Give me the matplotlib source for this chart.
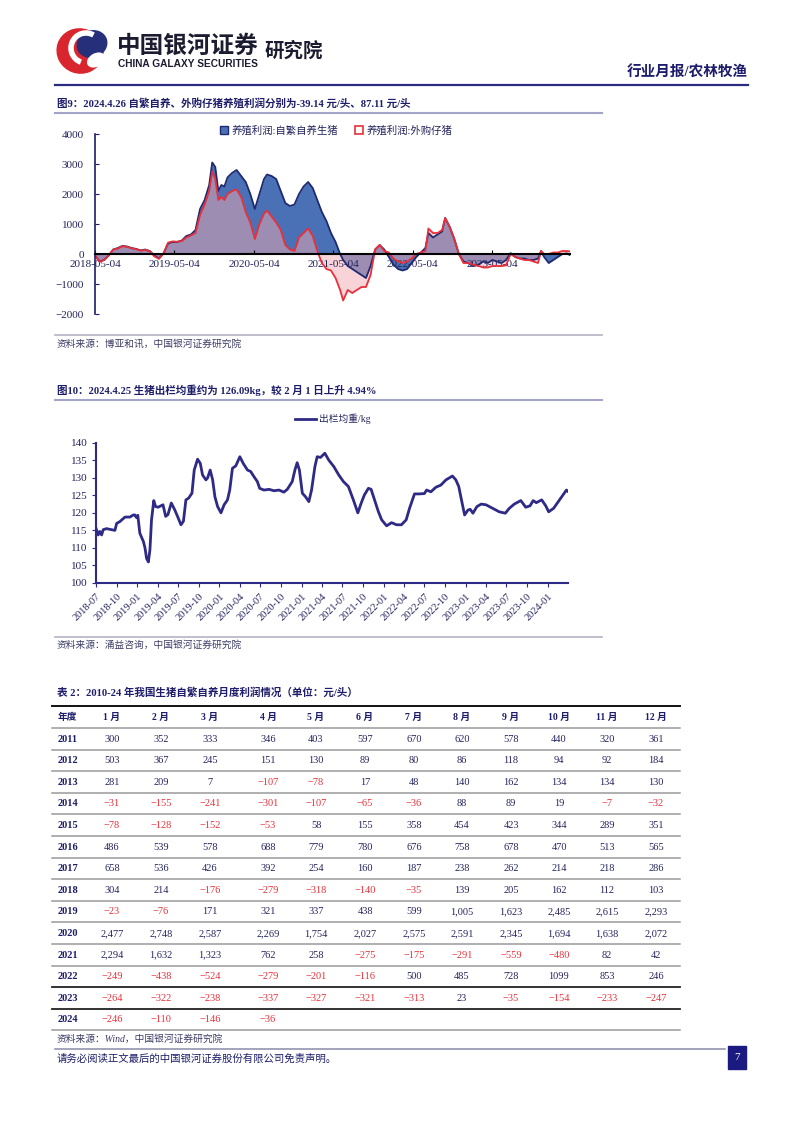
import matplotlib
matplotlib.use('Agg')
import matplotlib.pyplot as plt
from matplotlib.patches import Ellipse, Rectangle, Patch, Arc
from matplotlib.lines import Line2D
import pandas as pd

plt.rcParams['font.family'] = ['Liberation Serif', 'Noto Sans CJK SC']
plt.rcParams['axes.unicode_minus'] = True

# ---- chart 9: breeding profit, yuan/head (weekly) ----
profit_dates = [
    '2018-05-04', '2018-05-25', '2018-06-15', '2018-07-06', '2018-07-27', '2018-08-17',
    '2018-09-07', '2018-09-28', '2018-10-19', '2018-11-09', '2018-11-30', '2018-12-21',
    '2019-01-11', '2019-02-01', '2019-02-22', '2019-03-15', '2019-04-05', '2019-04-26',
    '2019-05-17', '2019-06-07', '2019-06-28', '2019-07-19', '2019-08-09', '2019-08-30',
    '2019-09-20', '2019-10-11', '2019-10-25', '2019-11-08', '2019-11-22', '2019-12-06',
    '2019-12-20', '2020-01-03', '2020-01-24', '2020-02-14', '2020-03-06', '2020-03-27',
    '2020-04-17', '2020-05-08', '2020-05-29', '2020-06-19', '2020-07-03', '2020-07-24',
    '2020-08-14', '2020-09-04', '2020-09-25', '2020-10-16', '2020-11-06', '2020-11-27',
    '2020-12-18', '2021-01-08', '2021-01-29', '2021-02-19', '2021-03-12', '2021-04-02',
    '2021-04-23', '2021-05-14', '2021-06-04', '2021-06-18', '2021-07-09', '2021-07-30',
    '2021-08-20', '2021-09-10', '2021-10-01', '2021-10-22', '2021-11-12', '2021-12-03',
    '2021-12-24', '2022-01-14', '2022-02-04', '2022-02-25', '2022-03-18', '2022-04-08',
    '2022-04-29', '2022-05-20', '2022-06-10', '2022-07-01', '2022-07-15', '2022-08-05',
    '2022-08-26', '2022-09-16', '2022-09-30', '2022-10-21', '2022-11-11', '2022-12-02',
    '2022-12-23', '2023-01-13', '2023-02-03', '2023-03-03', '2023-03-24', '2023-04-14',
    '2023-05-05', '2023-05-26', '2023-06-16', '2023-07-07', '2023-07-28', '2023-08-18',
    '2023-09-08', '2023-09-29', '2023-10-20', '2023-11-10', '2023-12-01', '2023-12-15',
    '2023-12-29', '2024-01-19', '2024-02-09', '2024-03-01', '2024-03-22', '2024-04-12',
    '2024-04-26']
self_bred = [
    -50, -250, -200, -50, 150, 200, 270, 250, 200, 170, 120, 150,
    100, -50, -150, 20, 350, 400, 400, 450, 600, 650, 800, 1500,
    1800, 2300, 3050, 2900, 2100, 2300, 2250, 2550, 2700, 2800, 2600, 2400,
    2000, 1500, 2000, 2500, 2650, 2600, 2500, 2100, 1700, 1600, 1650, 2000,
    2250, 2400, 2200, 1800, 1400, 1100, 700, 400, 0, -200, -400, -500,
    -600, -700, -800, -400, 150, 300, 150, -100, -350, -500, -550, -500,
    -300, -100, 50, 200, 700, 550, 650, 750, 1200, 900, 500, 0,
    -250, -300, -400, -350, -250, -300, -200, -250, -300, -200, 30, -100,
    -150, -150, -200, -200, -150, 100, -100, -300, -200, -100, 0, 20,
    -39.14]
piglet_bought = [
    -50, -260, -200, -50, 150, 180, 260, 240, 190, 160, 110, 140,
    90, -80, -160, 20, 380, 420, 410, 430, 550, 620, 700, 1300,
    1650, 2100, 2750, 2500, 1800, 1900, 1800, 2000, 2100, 2150, 1900, 1400,
    1050, 500, 1000, 1350, 1450, 1250, 1050, 800, 300, 150, 100, 550,
    700, 850, 600, 100, -300, -500, -550, -800, -1200, -1550, -1200, -1300,
    -1200, -1100, -1100, -700, 150, 300, 100, 50, -150, -250, -300, -250,
    -150, 0, 50, 100, 850, 700, 700, 800, 1200, 900, 500, 0,
    -300, -300, -350, -400, -450, -450, -400, -400, -400, -380, 0, -100,
    -150, -200, -200, -250, -300, 100, 0, 0, 50, 50, 100, 100,
    87.11]
profit_ticks = ['2018-05-04', '2019-05-04', '2020-05-04', '2021-05-04', '2022-05-04', '2023-05-04']
profit_labels = ['养殖利润:自繁自养生猪', '养殖利润:外购仔猪']

# ---- chart 10: average slaughter weight, kg ----
weight_dates = [
    '2018-07-01', '2018-07-11', '2018-07-18', '2018-07-26', '2018-08-02', '2018-08-17',
    '2018-09-08', '2018-09-23', '2018-10-01', '2018-10-15', '2018-11-07', '2018-11-29',
    '2018-12-14', '2018-12-21', '2018-12-29', '2019-01-03', '2019-01-12', '2019-01-28',
    '2019-02-04', '2019-02-11', '2019-02-19', '2019-02-26', '2019-03-05', '2019-03-15',
    '2019-03-23', '2019-04-03', '2019-04-25', '2019-05-07', '2019-05-17', '2019-06-01',
    '2019-06-16', '2019-06-30', '2019-07-14', '2019-07-25', '2019-08-05', '2019-08-17',
    '2019-09-01', '2019-09-11', '2019-09-26', '2019-10-08', '2019-10-18', '2019-11-02',
    '2019-11-09', '2019-11-21', '2019-12-02', '2019-12-12', '2019-12-24', '2020-01-08',
    '2020-01-22', '2020-02-06', '2020-02-16', '2020-02-28', '2020-03-14', '2020-04-01',
    '2020-04-16', '2020-05-05', '2020-05-19', '2020-06-03', '2020-06-18', '2020-06-28',
    '2020-07-17', '2020-08-09', '2020-08-31', '2020-09-22', '2020-10-14', '2020-10-29',
    '2020-11-20', '2020-12-02', '2020-12-12', '2020-12-22', '2021-01-04', '2021-01-18',
    '2021-02-02', '2021-02-14', '2021-03-01', '2021-03-11', '2021-03-26', '2021-04-14',
    '2021-05-02', '2021-05-24', '2021-06-15', '2021-07-06', '2021-07-28', '2021-08-19',
    '2021-09-08', '2021-09-23', '2021-10-07', '2021-10-25', '2021-11-06', '2021-11-24',
    '2021-12-08', '2021-12-23', '2022-01-14', '2022-02-05', '2022-02-27', '2022-03-21',
    '2022-04-11', '2022-04-26', '2022-05-18', '2022-06-09', '2022-07-01', '2022-07-11',
    '2022-07-30', '2022-08-21', '2022-09-12', '2022-10-05', '2022-11-03', '2022-11-18',
    '2022-12-01', '2022-12-12', '2022-12-27', '2023-01-11', '2023-01-21', '2023-02-02',
    '2023-02-20', '2023-03-11', '2023-04-01', '2023-05-01', '2023-05-30', '2023-06-26',
    '2023-07-14', '2023-08-05', '2023-09-03', '2023-09-25', '2023-10-14', '2023-10-28',
    '2023-11-11', '2023-12-05', '2023-12-23', '2024-01-05', '2024-01-27', '2024-02-18',
    '2024-03-11', '2024-03-24', '2024-03-31']
avg_weight = [
    115.6, 113.7, 114.7, 113.7, 115.2, 115.5, 115.2, 115.0, 117.0, 117.5, 118.8, 118.8,
    119.4, 119.4, 118.6, 119.3, 114.2, 111.8, 110.0, 107.0, 106.0, 109.5, 118.0, 123.5,
    121.8, 121.6, 122.3, 119.0, 119.5, 122.8, 120.9, 118.8, 116.6, 117.6, 123.7, 124.2,
    125.6, 132.2, 135.3, 134.1, 130.8, 129.4, 129.9, 132.2, 129.4, 124.6, 121.8, 120.0,
    122.3, 123.7, 126.5, 132.7, 133.4, 136.0, 134.1, 132.2, 131.8, 130.3, 128.9, 127.0,
    126.5, 126.7, 126.3, 126.5, 125.9, 126.7, 128.9, 132.2, 134.3, 132.2, 125.6, 124.6,
    123.2, 126.5, 133.2, 136.0, 135.8, 137.0, 135.0, 133.2, 130.8, 128.9, 127.5, 123.7,
    120.0, 122.8, 125.1, 127.0, 126.7, 123.2, 120.4, 118.0, 116.3, 117.2, 116.6, 116.6,
    118.0, 121.3, 125.4, 125.4, 125.5, 126.5, 126.0, 127.3, 127.9, 129.4, 130.5, 129.4,
    127.5, 124.0, 119.4, 120.8, 121.0, 119.9, 121.8, 122.5, 122.3, 121.3, 120.3, 119.9,
    121.3, 122.5, 123.5, 121.6, 122.0, 123.5, 122.9, 123.7, 122.0, 120.3, 121.3, 123.3,
    125.3, 126.5, 126.1]
weight_ticks = ['2018-07', '2018-10', '2019-01', '2019-04', '2019-07', '2019-10', '2020-01',
                '2020-04', '2020-07', '2020-10', '2021-01', '2021-04', '2021-07', '2021-10',
                '2022-01', '2022-04', '2022-07', '2022-10', '2023-01', '2023-04', '2023-07',
                '2023-10', '2024-01']

# ---- table 2: monthly profit of self-bred hogs ----
table_head = ['年度', '1 月', '2 月', '3 月', '4 月', '5 月', '6 月', '7 月', '8 月',
              '9 月', '10 月', '11 月', '12 月']
table_years = ['2011', '2012', '2013', '2014', '2015', '2016', '2017', '2018', '2019',
               '2020', '2021', '2022', '2023', '2024']
table_rows = [
    ['300', '352', '333', '346', '403', '597', '670', '620', '578', '440', '320', '361'],
    ['503', '367', '245', '151', '130', '89', '80', '86', '118', '94', '92', '184'],
    ['281', '209', '7', '-107', '-78', '17', '48', '140', '162', '134', '134', '130'],
    ['-31', '-155', '-241', '-301', '-107', '-65', '-36', '88', '89', '19', '-7', '-32'],
    ['-78', '-128', '-152', '-53', '58', '155', '358', '454', '423', '344', '289', '351'],
    ['486', '539', '578', '688', '779', '780', '676', '758', '678', '470', '513', '565'],
    ['658', '536', '426', '392', '254', '160', '187', '238', '262', '214', '218', '286'],
    ['304', '214', '-176', '-279', '-318', '-140', '-35', '139', '205', '162', '112', '103'],
    ['-23', '-76', '171', '321', '337', '438', '599', '1,005', '1,623', '2,485', '2,615', '2,293'],
    ['2,477', '2,748', '2,587', '2,269', '1,754', '2,027', '2,575', '2,591', '2,345', '1,694', '1,638', '2,072'],
    ['2,294', '1,632', '1,323', '762', '258', '-275', '-175', '-291', '-559', '-480', '82', '42'],
    ['-249', '-438', '-524', '-279', '-201', '-116', '500', '485', '728', '1099', '853', '246'],
    ['-264', '-322', '-238', '-337', '-327', '-321', '-313', '23', '-35', '-154', '-233', '-247'],
    ['-246', '-110', '-146', '-36'],
]

NAVY = '#1d1d6b'
TXT = '#24245e'
GREY = '#3c3c66'
BLUE_FILL = '#4a71b6'
BLUE_LINE = '#1f2a70'
PINK_FILL = '#f2aab2'
RED_LINE = '#e8303a'
RED_TXT = '#e8303a'
W, H = 802, 1133
CJK = ['Noto Sans CJK SC']


def frac(x0, y0, x1, y1):
    return [x0 / W, 1 - y1 / H, (x1 - x0) / W, (y1 - y0) / H]


fig = plt.figure(figsize=(W / 100, H / 100), dpi=100)
page = fig.add_axes([0, 0, 1, 1])
page.set_xlim(0, W)
page.set_ylim(H, 0)
page.axis('off')

# header / logo
page.add_patch(Ellipse((80, 51), 46, 44, angle=20, color='#d9262e'))
page.add_patch(Ellipse((92, 44), 30, 26, angle=-20, color='#262f7a'))
page.add_patch(Arc((86, 48), 30, 30, theta1=110, theta2=300, color='white', lw=4))
page.add_patch(Ellipse((96, 60), 18, 12, angle=-30, color='white'))
page.text(117, 46, '中国银河证券', family=CJK, fontsize=17, weight='bold',
          color='#1c1c30', va='center')
page.text(265, 51, '研究院', family=CJK, fontsize=14, weight='bold', color='#1c1c30', va='center')
page.text(118, 64, 'CHINA GALAXY SECURITIES', family=['Liberation Sans'], fontsize=7.3,
          weight='bold', color='#1c1c30', va='center')
page.text(748, 73, '行业月报/农林牧渔', fontsize=10.5, weight='bold', color=NAVY,
          ha='right', va='center')
page.plot([55, 748], [85, 85], color='#2a2a80', lw=1.6)

# chart 9 frame texts
page.text(57, 103, '图9：2024.4.26 自繁自养、外购仔猪养殖利润分别为-39.14 元/头、87.11 元/头',
          fontsize=7.6, weight='bold', color=NAVY, va='center')
page.plot([55, 602], [113, 113], color='#a4a4c8', lw=1.5)
page.plot([55, 602], [335, 335], color='#b4b4c4', lw=1.2)
page.text(57, 344, '资料来源：博亚和讯，中国银河证券研究院', fontsize=7, style='italic',
          color=GREY, va='center')

# chart 10 frame texts
page.text(57, 390, '图10：2024.4.25 生猪出栏均重约为 126.09kg，较 2 月 1 日上升 4.94%',
          fontsize=7.6, weight='bold', color=NAVY, va='center')
page.plot([55, 602], [400, 400], color='#a4a4c8', lw=1.5)
page.plot([55, 602], [637, 637], color='#b4b4c4', lw=1.2)
page.text(57, 645, '资料来源：涌益咨询，中国银河证券研究院', fontsize=7, style='italic',
          color=GREY, va='center')

# ---- chart 9 ----
ax1 = fig.add_axes(frac(95, 134, 570, 314), facecolor='none')
d9 = pd.to_datetime(profit_dates)
ax1.fill_between(d9, self_bred, 0, color=BLUE_FILL, lw=0)
ax1.fill_between(d9, piglet_bought, 0, color=PINK_FILL, alpha=0.5, lw=0)
ax1.plot(d9, self_bred, color=BLUE_LINE, lw=1.3)
ax1.plot(d9, piglet_bought, color=RED_LINE, lw=1.3)
ax1.set_xlim(d9[0], d9[-1])
ax1.set_ylim(-2000, 4000)
ax1.set_yticks(range(-2000, 4001, 1000))
ax1.set_xticks(pd.to_datetime(profit_ticks))
ax1.set_xticklabels(profit_ticks)
ax1.spines['bottom'].set_position(('data', 0))
ax1.spines['bottom'].set_linewidth(1.5)
ax1.spines['bottom'].set_color('black')
ax1.spines['left'].set_color(NAVY)
ax1.spines['left'].set_linewidth(1.2)
for s in ('top', 'right'):
    ax1.spines[s].set_visible(False)
ax1.tick_params(axis='x', direction='in', length=3, pad=4, labelsize=8, labelcolor=TXT)
ax1.tick_params(axis='y', direction='in', length=3, pad=8, labelsize=8, labelcolor=TXT,
                color=NAVY)
fig.legend([Patch(fc=BLUE_FILL, ec=BLUE_LINE), Patch(fc='white', ec=RED_LINE, lw=1.2)],
           profit_labels, loc='center', bbox_to_anchor=(336 / W, 1 - 130 / H), ncol=2,
           frameon=False, fontsize=7.5, handlelength=0.8, handleheight=0.8,
           handletextpad=0.3, columnspacing=1.6, labelcolor=TXT)

# ---- chart 10 ----
ax2 = fig.add_axes(frac(96, 442.7, 568, 583), facecolor='none')
d10 = pd.to_datetime(weight_dates)
ax2.plot(d10, avg_weight, color='#2e2a85', lw=2)
ax2.set_xlim(d10[0], d10[-1])
ax2.set_ylim(100, 140)
ax2.set_yticks(range(100, 141, 5))
ax2.set_xticks(pd.to_datetime(weight_ticks))
ax2.set_xticklabels(weight_ticks, rotation=45, ha='right', va='top', rotation_mode='anchor')
for s in ('top', 'right'):
    ax2.spines[s].set_visible(False)
for s in ('left', 'bottom'):
    ax2.spines[s].set_color('#2e2a85')
    ax2.spines[s].set_linewidth(1.5)
ax2.tick_params(axis='x', length=3, pad=3, labelsize=7.5, labelcolor=TXT, color='#2e2a85')
ax2.tick_params(axis='y', length=3, pad=3, labelsize=8, labelcolor=TXT, color='#2e2a85')
fig.legend([Line2D([], [], color='#2e2a85', lw=2)], ['出栏均重/kg'], loc='center left',
           bbox_to_anchor=(286 / W, 1 - 419 / H), frameon=False, fontsize=7,
           handlelength=2.2, handletextpad=0.3, labelcolor=TXT)

# ---- table 2 ----
page.text(57, 693, '表 2：2010-24 年我国生猪自繁自养月度利润情况（单位：元/头）',
          fontsize=7.6, weight='bold', color=NAVY, va='center')
col_x = [58, 112, 161, 210, 268, 316, 365, 414, 462, 511, 559, 607, 656]
row_h = 21.6
page.plot([52, 680], [706, 706], color='#111111', lw=1.4)
for j, h in enumerate(table_head):
    page.text(col_x[j], 717, h, fontsize=7, weight='bold', color=NAVY,
              ha='left' if j == 0 else 'center', va='center')
for i, (yr, row) in enumerate(zip(table_years, table_rows)):
    yc = 739 + i * row_h
    page.text(col_x[0], yc, yr, fontsize=7.5, weight='bold', color=NAVY, va='center')
    for j, v in enumerate(row):
        neg = v.startswith('-')
        page.text(col_x[j + 1], yc, v.replace('-', '\u2212'), fontsize=7.5,
                  color=RED_TXT if neg else TXT, ha='center', va='center')
for k in range(len(table_years) + 1):
    yl = 728 + k * row_h
    dark = k in (12, 13)
    page.plot([52, 680], [yl, yl], color='#222222' if dark else '#9a9a9a',
              lw=1.3 if dark else 1.1)
page.text(57, 1039, '资料来源：Wind，中国银河证券研究院', fontsize=7, style='italic',
          color=GREY, va='center')

# footer
page.plot([55, 725], [1049, 1049], color='#8a8aa8', lw=1.1)
page.text(57, 1059, '请务必阅读正文最后的中国银河证券股份有限公司免责声明。', fontsize=7.5,
          color=NAVY, va='center')
page.add_patch(Rectangle((728, 1046), 18, 23, color='#1a1a80'))
page.text(737, 1058, '7', fontsize=8, color='white', ha='center', va='center')

fig.savefig('out.png', dpi=100)
